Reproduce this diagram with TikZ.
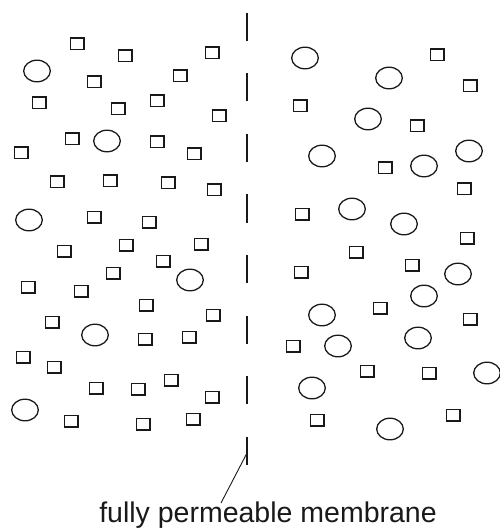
\documentclass[tikz,border=0pt]{standalone}
\usepackage{fontspec}
\setmainfont{Liberation Sans}
\usetikzlibrary{shapes.geometric}
\begin{document}
\begin{tikzpicture}[x=1pt,y=-1pt,
  sq/.style={draw=black!90, line width=1.5pt, rectangle, minimum width=13.5pt, minimum height=11.5pt, inner sep=0pt, outer sep=0pt},
  ov/.style={draw=black!90, line width=1.3pt, ellipse, minimum width=26.6pt, minimum height=21.6pt, inner sep=0pt, outer sep=0pt},
  memb/.style={line width=2.5pt, draw=black!90, dash pattern=on 28pt off 32.5pt},
  lead/.style={line width=0.9pt, draw=black!90},
  lbl/.style={anchor=base, inner sep=0pt, font=\fontsize{28.5}{34}\selectfont, text=black!90}]
\useasboundingbox (0,0) rectangle (499,529);
% squares
\foreach \x/\y [count=\i] in {77/44,125/56,212/53,94/82,180/76,39/103,118/109,157/101,219/116,72/139,157/142,21/153,194/154,
  57/182,110/181,168/183,214/190,94/217,149/222,64/251,126/245,201/244,163/261,113/273,28/287,81/291,
  146/305,213/315,52/322,145/339,189/337,23/357,54/367,96/388,138/389,171/380,212/397,71/421,143/424,193/419,
  437/55,470/86,300/106,417/126,385/168,464/189,302/214,467/238,356/252,412/265,301/272,380/308,470/319,293/346,367/371,429/373,317/420,453/415}
  \node[sq] (s\i) at (\x,\y) {};
% circles
\foreach \x/\y [count=\i] in {37/71,107/141,29/220,190/280,95/335,25/410,
  305/58,389/78,368/119,322/156,424/166,469/151,352/209,404/224,458/274,424/296,322/315,338/346,418/338,487/373,312/388,390/429}
  \node[ov] (c\i) at (\x,\y) {};
% membrane
\coordinate (mtop) at (247,13);
\coordinate (mbot) at (247,465);
\draw[memb] (mtop) -- (mbot);
% label
\coordinate (m) at (247,453);
\coordinate (lt) at (221,503);
\node[lbl] (label) at (268,522) {fully permeable membrane};
\draw[lead] (m) -- (lt);
\end{tikzpicture}
\end{document}
